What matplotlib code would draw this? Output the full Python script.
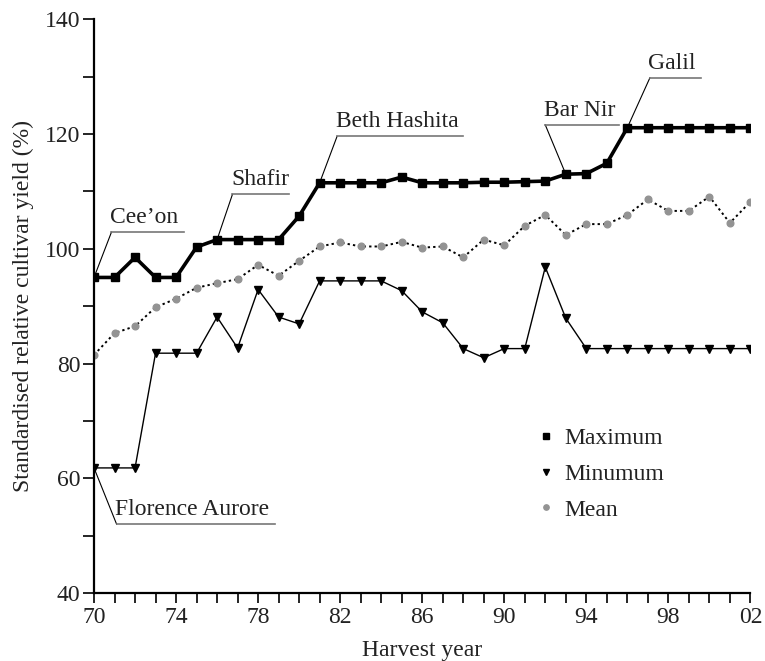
import numpy as np
import matplotlib.pyplot as plt
from matplotlib.ticker import MultipleLocator

# Data (harvest years 1970-2002)
years = np.arange(70, 103)
maximum = [95.0, 95.0, 98.5, 95.0, 95.0, 100.3, 101.6, 101.6, 101.6, 101.6,
           105.7, 111.5, 111.5, 111.5, 111.5, 112.5, 111.5, 111.5, 111.5, 111.6,
           111.6, 111.7, 111.8, 113.0, 113.1, 114.9, 121.1, 121.1, 121.1, 121.1,
           121.1, 121.1, 121.1]
minimum = [61.8, 61.8, 61.8, 81.8, 81.8, 81.8, 88.1, 82.7, 92.9, 88.1,
           86.9, 94.4, 94.4, 94.4, 94.4, 92.7, 89.0, 87.1, 82.6, 81.0,
           82.6, 82.6, 96.8, 87.9, 82.6, 82.6, 82.6, 82.6, 82.6, 82.6,
           82.6, 82.6, 82.6]
mean = [81.5, 85.3, 86.5, 89.8, 91.3, 93.2, 94.0, 94.7, 97.2, 95.3,
        97.9, 100.4, 101.1, 100.4, 100.4, 101.2, 100.2, 100.4, 98.5, 101.6,
        100.6, 104.0, 105.9, 102.4, 104.3, 104.3, 105.9, 108.6, 106.6, 106.6,
        109.1, 104.5, 108.2]
xtick_years = [70, 74, 78, 82, 86, 90, 94, 98, 102]
xtick_labels = ["70", "74", "78", "82", "86", "90", "94", "98", "02"]

# cultivar labels: (text, series, year of point, label x, underline y, underline end x)
cultivars = [
    ("Cee\u2019on", "max", 70, 70.85, 102.9, 74.4),
    ("Shafir", "max", 76, 76.75, 109.5, 79.5),
    ("Beth Hashita", "max", 81, 81.85, 119.6, 88.0),
    ("Bar Nir", "max", 93, 92.0, 121.6, 95.6),
    ("Galil", "max", 96, 97.1, 129.8, 99.6),
    ("Florence Aurore", "min", 70, 71.1, 52.0, 78.8),
]

plt.rcParams['font.family'] = ['Liberation Serif', 'DejaVu Serif']
plt.rcParams['font.size'] = 17
text_col = '#222222'

fig = plt.figure(figsize=(7.65, 6.61), dpi=100)
ax = fig.add_axes([0.1229, 0.1029, 0.858, 0.8679])

ax.plot(years, mean, color='black', lw=1.4, ls=(0, (1.2, 1.6)), marker='o',
        ms=4.8, mfc='#939393', mec='#939393', label='Mean', zorder=2)
ax.plot(years, minimum, color='black', lw=1.0, marker='v', ms=6,
        label='Minumum', zorder=3)
ax.plot(years, maximum, color='black', lw=2.6, marker='s', ms=6,
        label='Maximum', zorder=4)

series = {"max": maximum, "min": minimum}
for label, key, yr, lx, uy, ux in cultivars:
    py = series[key][yr - 70]
    ax.plot([lx, yr], [uy, py], color='black', lw=0.8, zorder=5, clip_on=False)
    ax.plot([lx, ux], [uy, uy], color='#777777', lw=1.2, zorder=5, clip_on=False)
    ax.annotate(label, (lx, uy), xytext=(-1, 3), textcoords='offset points',
                ha='left', va='bottom', color=text_col)

ax.set_xlim(70, 102)
ax.set_ylim(40, 140)
ax.set_xticks(xtick_years)
ax.set_xticklabels(xtick_labels)
ax.xaxis.set_minor_locator(MultipleLocator(1))
ax.yaxis.set_major_locator(MultipleLocator(20))
ax.yaxis.set_minor_locator(MultipleLocator(10))
ax.tick_params(which='both', direction='out', width=1.2, colors='black',
               labelcolor=text_col)
ax.tick_params(axis='y', which='both', length=8, pad=2)
ax.tick_params(axis='x', which='both', length=7, pad=3)

for s in ['top', 'right']:
    ax.spines[s].set_visible(False)
for s in ['left', 'bottom']:
    ax.spines[s].set_linewidth(1.6)

ax.set_xlabel("Harvest year", color=text_col, labelpad=9)
ax.set_ylabel("Standardised relative cultivar yield (%)", color=text_col, labelpad=8)

handles, labels = ax.get_legend_handles_labels()
order = [2, 1, 0]
leg = ax.legend([handles[i] for i in order], [labels[i] for i in order],
                loc='upper left', bbox_to_anchor=(0.645, 0.325), frameon=False,
                handlelength=0.6, handletextpad=0.5, labelspacing=0.6,
                markerscale=0.8)
for h in leg.legend_handles:
    h.set_linestyle('none')
for t in leg.get_texts():
    t.set_color(text_col)

plt.savefig('out.png', dpi=100)
